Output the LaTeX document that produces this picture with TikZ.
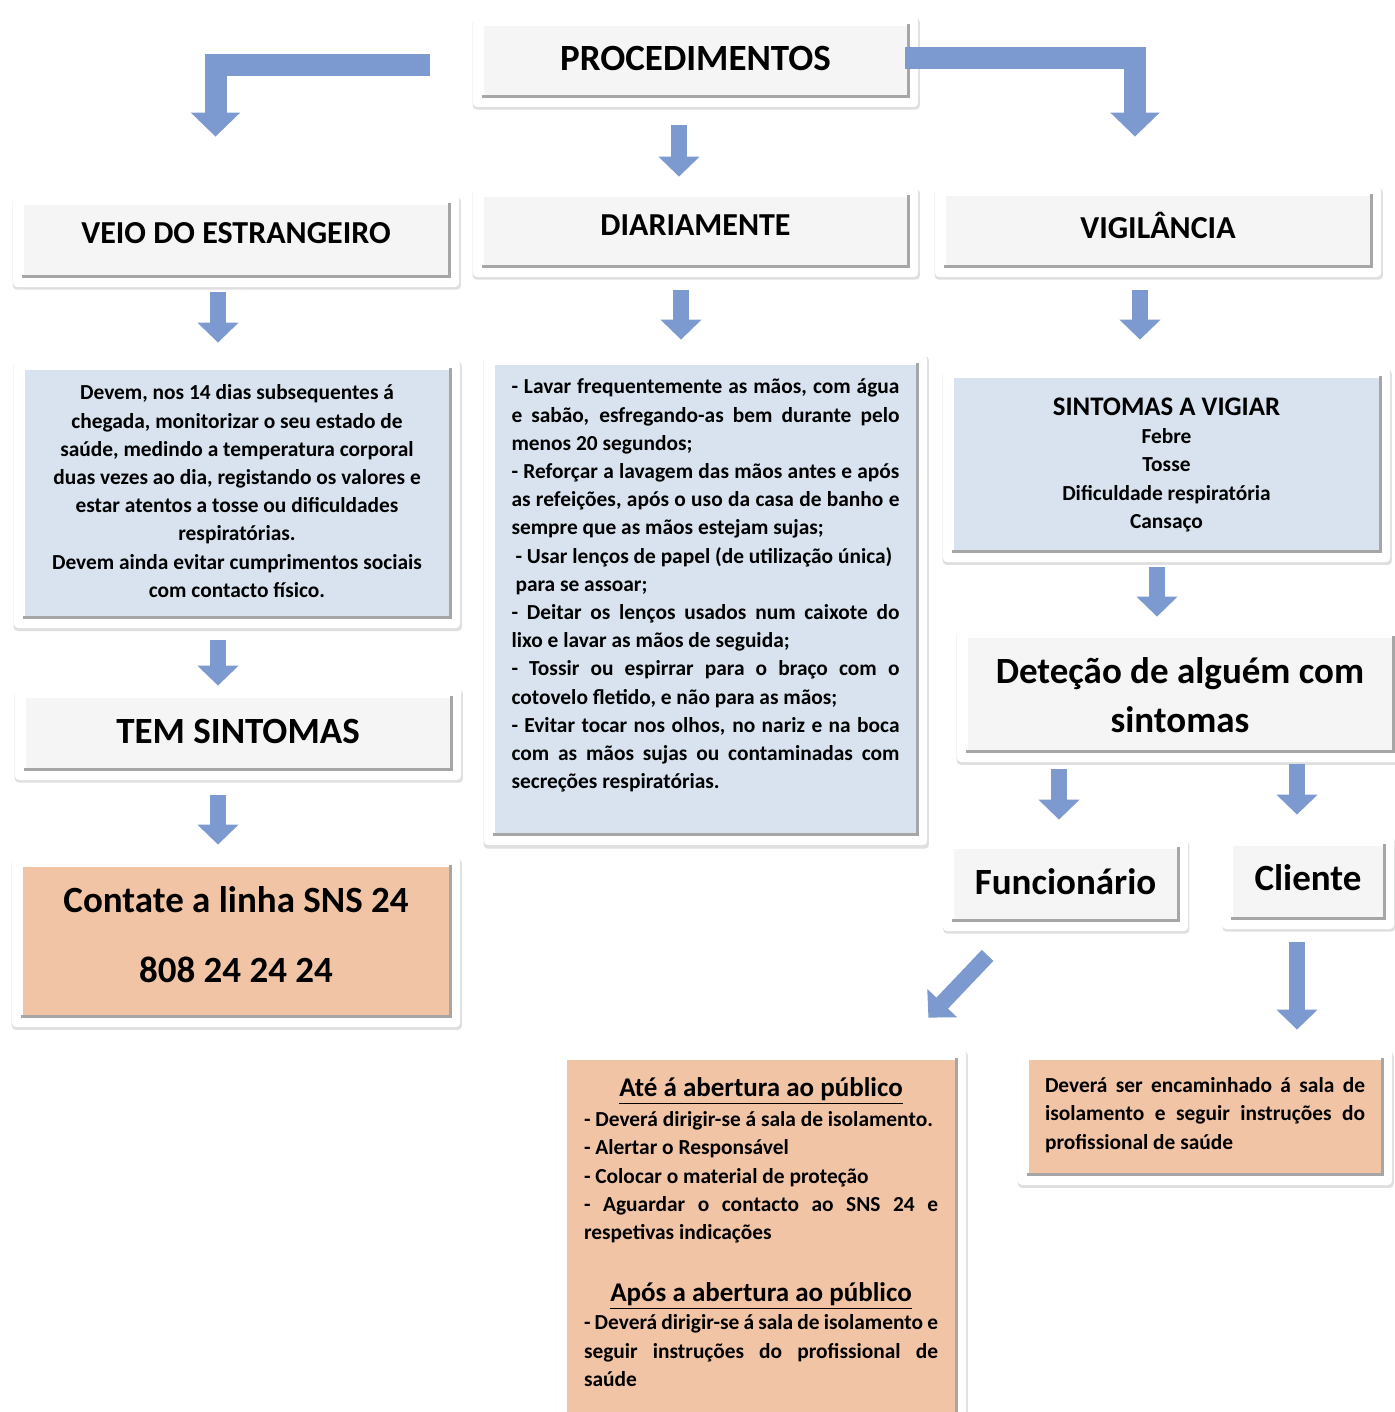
\documentclass[tikz,border=0pt]{standalone}
\usepackage{fontspec}
\setmainfont{Carlito}
\usetikzlibrary{arrows.meta, shadows}

\definecolor{headfill}{HTML}{F5F5F5}
\definecolor{bluefill}{HTML}{D8E3EF}
\definecolor{peachfill}{HTML}{F0C4A5}
\definecolor{arrowblue}{HTML}{7C9AD0}

\newcommand\hdfont{\fontsize{16}{19}\selectfont\bfseries}
\newcommand\bigfont{\fontsize{18.5}{22}\selectfont\bfseries}
\newcommand\bodyfont{\fontsize{10.7}{14.1}\selectfont\bfseries\hyphenpenalty=10000 \exhyphenpenalty=10000 }

\begin{document}
\begin{tikzpicture}[x=0.5pt, y=-0.5pt,
        panel/.style={fill=white, rounded corners=2pt, inner sep=0pt,
            drop shadow={shadow xshift=0.4pt, shadow yshift=-1.2pt, opacity=0.25, shadow scale=1.005},
            path picture={
                \fill[#1, sharp corners] ([shift={(4.5pt,-4pt)}]path picture bounding box.north west) rectangle ([shift={(-4pt,4.5pt)}]path picture bounding box.south east);
                \draw[white, line width=1.2pt, sharp corners] ([shift={(5pt,5pt)}]path picture bounding box.south west) -- ([shift={(5pt,-4.6pt)}]path picture bounding box.north west) -- ([shift={(-4.5pt,-4.6pt)}]path picture bounding box.north east);
                \draw[black!35, line width=1.6pt, sharp corners] ([shift={(4.5pt,5.3pt)}]path picture bounding box.south west) -- ([shift={(-4.8pt,5.3pt)}]path picture bounding box.south east) -- ([shift={(-4.8pt,-4pt)}]path picture bounding box.north east);
            }},
        barrow/.style={draw=arrowblue, line width=8pt, -{Triangle[width=20pt, length=10pt]}},
        bendarrow/.style={draw=arrowblue, line width=11pt, line join=miter, -{Triangle[width=24pt, length=12pt]}}]

            \useasboundingbox (0,0) rectangle (1394,1412);

            \node[panel=headfill, minimum width=222.5pt, minimum height=45.5pt, font=\fontsize{18.5}{22}\selectfont\bfseries, text depth=3.5pt] (proc) at (695.5,61.5) {PROCEDIMENTOS};

            \node[panel=headfill, minimum width=223pt, minimum height=46pt, font=\hdfont, text depth=8pt] (veio) at (236,241) {VEIO DO ESTRANGEIRO};
            \node[panel=headfill, minimum width=222.5pt, minimum height=45pt, font=\hdfont, text depth=7pt] (diar) at (695.5,232) {DIARIAMENTE};
            \node[panel=headfill, minimum width=223pt, minimum height=45.5pt, font=\hdfont, text depth=6.5pt] (vig) at (1158,231.5) {VIGILÂNCIA};

            \node[panel=bluefill, minimum width=223pt, minimum height=134pt, font=\bodyfont, align=center, text depth=3pt] (monit) at (237,494)
                {Devem, nos 14 dias subsequentes á\\ chegada, monitorizar o seu estado de\\ saúde, medindo a temperatura corporal\\ duas vezes ao dia, registando os valores e\\ estar atentos a tosse ou dificuldades\\ respiratórias.\\ Devem ainda evitar cumprimentos sociais\\ com contacto físico.};

            \node[panel=bluefill, minimum width=221.5pt, minimum height=245pt, font=\bodyfont, text width=194pt, align=justify] (lista) at (705.5,600)
                {- Lavar frequentemente as mãos, com água\linebreak e sabão, esfregando-as bem durante pelo\linebreak menos 20 segundos;\\
                - Reforçar a lavagem das mãos antes e após\linebreak as refeições, após o uso da casa de banho e\linebreak sempre que as mãos estejam sujas;\\
                \hspace*{2pt}- Usar lenços de papel (de utilização única)\\
                \hspace*{2pt}para se assoar;\\
                - Deitar os lenços usados num caixote do\linebreak lixo e lavar as mãos de seguida;\\
                - Tossir ou espirrar para o braço com o\linebreak cotovelo fletido, e não para as mãos;\\
                - Evitar tocar nos olhos, no nariz e na boca\linebreak com as mãos sujas ou contaminadas com\linebreak secreções respiratórias.\\[2pt]
                \mbox{}};

            \node[panel=bluefill, minimum width=223.5pt, minimum height=97pt, font=\bodyfont, align=center] (sint) at (1166.5,465)
                {{\fontsize{13.4}{15.5}\selectfont SINTOMAS A VIGIAR}\\ Febre\\ Tosse\\ Dificuldade respiratória\\ Cansaço};

            \node[panel=headfill, minimum width=223pt, minimum height=67pt, font=\fontsize{18.5}{24.5}\selectfont\bfseries, align=center] (detec) at (1180,695)
                {Deteção de alguém com\\ sintomas};

            \node[panel=headfill, minimum width=223pt, minimum height=46pt, font=\bigfont, text depth=3pt] (tem) at (238,734) {TEM SINTOMAS};

            \node[panel=peachfill, minimum width=224pt, minimum height=85pt, font=\fontsize{18.5}{35}\selectfont\bfseries, align=center, text depth=7pt] (linha) at (236,942)
                {Contate a linha SNS 24\\ 808 24 24 24};

            \node[panel=headfill, minimum width=122.5pt, minimum height=46pt, font=\bigfont, text depth=3pt] (func) at (1065.5,885) {Funcionário};
            \node[panel=headfill, minimum width=86pt, minimum height=46.5pt, font=\bigfont, text depth=4.5pt] (cli) at (1308,882.5) {Cliente};

            \node[panel=peachfill, minimum width=205pt, minimum height=196pt, font=\bodyfont, text width=177pt, align=justify] (ate) at (761,1246)
                {\makebox[\linewidth]{\fontsize{13.5}{16}\selectfont\underline{Até á abertura ao público}}\\[1pt]
                - Deverá dirigir-se á sala de isolamento.\\
                - Alertar o Responsável\\
                - Colocar o material de proteção\\
                - Aguardar o contacto ao SNS 24 e\linebreak respetivas indicações\\[17pt]
                \makebox[\linewidth]{\fontsize{13.5}{16}\selectfont\underline{Após a abertura ao público}}\\
                - Deverá dirigir-se á sala de isolamento e\linebreak seguir instruções do profissional de\linebreak saúde\\[0pt]
                \mbox{}};

            \node[panel=peachfill, minimum width=187pt, minimum height=67.5pt, font=\bodyfont, text width=160pt, align=justify] (clibox) at (1205,1117.5)
                {Deverá ser encaminhado á sala de\linebreak isolamento e seguir instruções do\linebreak profissional de saúde\\[-10pt]
                \mbox{}};

            \draw[bendarrow, shorten <=21.5pt, shorten >=29pt] ([yshift=-2pt]proc.west) -| ([xshift=-10.25pt]veio.north);
            \draw[bendarrow, shorten <=-6.5pt, shorten >=24.5pt] ([yshift=1.75pt]proc.east) -| ([xshift=-11.5pt]vig.north);

            \draw[barrow, shorten <=9pt, shorten >=5pt] ([xshift=-8.25pt]proc.south) -- ([xshift=-8.25pt]proc.south |- diar.north);
            \draw[barrow, shorten <=2.5pt, shorten >=8.5pt] ([xshift=-9pt]veio.south) -- ([xshift=-9pt]veio.south |- monit.north);
            \draw[barrow, shorten <=6.5pt, shorten >=7.5pt] ([xshift=-7.25pt]diar.south) -- ([xshift=-7.25pt]diar.south |- lista.north);
            \draw[barrow, shorten <=6.5pt, shorten >=14pt] ([xshift=-9pt]vig.south) -- ([xshift=-9pt]vig.south |- sint.north);
            \draw[barrow, shorten <=6pt, shorten >=1pt] ([xshift=-9.5pt]monit.south) -- ([xshift=-9.5pt]monit.south |- tem.north);
            \draw[barrow, shorten <=7.5pt, shorten >=6pt] ([xshift=-10pt]tem.south) -- ([xshift=-10pt]tem.south |- linha.north);
            \draw[barrow, shorten <=2.5pt, shorten >=5.5pt] ([xshift=-4.75pt]sint.south) -- ([xshift=-4.75pt]sint.south |- detec.north);
            \draw[barrow, shorten <=3.5pt, shorten >=9.5pt] ([xshift=-3.25pt]func.north |- detec.south) -- ([xshift=-3.25pt]func.north);
            \draw[barrow, shorten <=1pt, shorten >=10.5pt] ([xshift=-5.5pt]cli.north |- detec.south) -- ([xshift=-5.5pt]cli.north);
            \draw[barrow, shorten <=6.5pt, shorten >=10pt] ([xshift=-5.5pt]cli.south) -- ([xshift=-5.5pt]cli.south |- clibox.north);
            \draw[barrow] ([shift={(22.5pt,-12pt)}]func.south west) -- ([shift={(-19pt,16pt)}]ate.north east);
        \end{tikzpicture}
\end{document}
